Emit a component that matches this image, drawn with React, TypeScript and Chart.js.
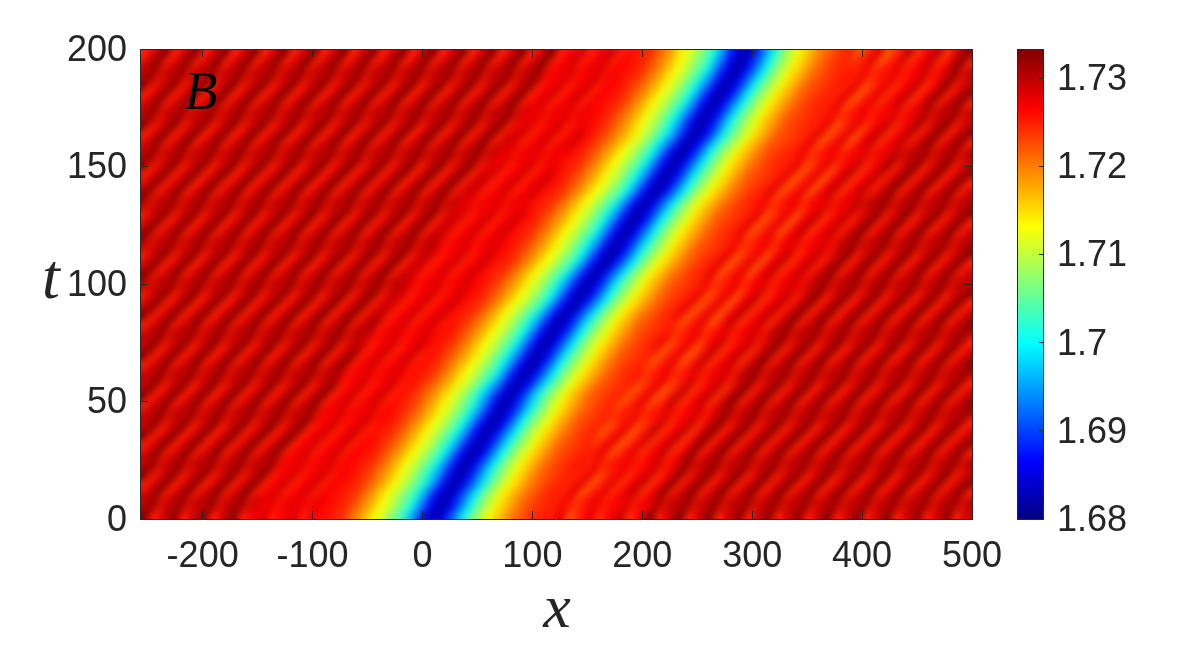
import React, { useEffect, useRef } from "react";
import { Chart, registerables } from "chart.js";

Chart.register(...registerables);

const row00 = [45,49,53,45,49,53,45,49,53,45,49,53,45,49,53,45,49,53,45,49,53,45,49,53,45,49,53,45,49,53,45,49,53,45,49,53,45,49,53,45,49,53,45,47,49,45,47,49,45,46,45,44,41,38,34,31,27,23,16,8,3,4,11,18,25,30,34,37,40,42,44,45,42,45,48,42,45,50,44,47,50,44,49,53];
const row01 = [49,53,45,49,53,45,49,53,45,49,53,45,49,53,45,49,53,45,49,53,45,49,53,45,49,53,45,49,53,45,49,53,45,49,53,45,49,53,45,49,53,45,47,49,45,47,49,45,47,46,45,43,40,37,33,30,26,21,13,6,2,6,13,21,27,31,35,38,41,43,44,45,45,48,42,45,48,44,47,50,44,47,53,45];
const row02 = [50,51,50,51,50,51,50,51,50,51,50,51,50,51,50,51,50,51,50,51,50,51,50,51,50,51,50,51,50,51,50,51,50,51,50,51,50,51,50,51,50,47,47,48,47,47,48,47,46,45,44,41,38,34,31,27,23,16,8,3,4,11,18,25,30,34,37,40,42,44,45,46,45,46,47,46,47,46,47,48,47,50,51,50];
const row03 = [53,45,49,53,45,49,53,45,49,53,45,49,53,45,49,53,45,49,53,45,49,53,45,49,53,45,49,53,45,49,53,45,49,53,45,49,53,45,49,53,45,47,49,45,47,49,45,47,46,44,42,39,36,32,29,24,18,11,4,3,8,16,23,28,32,36,39,42,43,44,45,45,48,42,45,48,44,47,50,44,47,53,45,49];
const row04 = [45,49,53,45,49,53,45,49,53,45,49,53,45,49,53,45,49,53,45,49,53,45,49,53,45,49,53,45,49,53,45,49,53,45,49,53,45,49,53,45,47,49,45,47,49,45,47,46,45,43,40,37,33,30,26,21,13,6,2,6,13,21,27,31,35,38,41,43,44,45,45,48,42,45,48,44,47,50,44,47,53,45,49,53];
const row05 = [49,53,45,49,53,45,49,53,45,49,53,45,49,53,45,49,53,45,49,53,45,49,53,45,49,53,45,49,53,45,49,53,45,49,53,45,49,53,45,47,49,45,47,49,45,47,46,45,44,41,38,34,31,27,23,16,8,3,4,11,18,25,30,34,37,40,42,44,45,45,48,42,45,48,44,47,50,44,47,53,45,49,53,45];
const row06 = [50,51,50,51,50,51,50,51,50,51,50,51,50,51,50,51,50,51,50,51,50,51,50,51,50,51,50,51,50,51,50,51,50,51,50,51,50,51,50,47,47,48,47,47,48,47,46,44,42,39,36,32,29,24,18,11,4,3,8,16,23,28,32,36,39,42,43,44,45,46,45,46,47,46,47,46,47,48,47,50,51,50,51,50];
const row07 = [53,45,49,53,45,49,53,45,49,53,45,49,53,45,49,53,45,49,53,45,49,53,45,49,53,45,49,53,45,49,53,45,49,53,45,49,53,45,47,49,45,47,49,45,47,46,45,43,40,37,33,30,26,21,13,6,2,6,13,21,27,31,35,38,41,43,44,45,45,48,42,45,48,44,47,50,44,47,53,45,49,53,45,49];
const row08 = [45,49,53,45,49,53,45,49,53,45,49,53,45,49,53,45,49,53,45,49,53,45,49,53,45,49,53,45,49,53,45,49,53,45,49,53,45,49,49,45,47,49,45,47,49,46,44,42,39,36,32,29,24,18,11,4,3,8,16,23,28,32,36,39,42,43,44,45,48,42,45,48,42,47,50,44,47,50,45,49,53,45,49,53];
const row09 = [49,53,45,49,53,45,49,53,45,49,53,45,49,53,45,49,53,45,49,53,45,49,53,45,49,53,45,49,53,45,49,53,45,49,53,45,49,49,45,47,49,45,47,49,46,44,42,39,36,32,29,24,18,11,4,3,8,16,23,28,32,36,39,42,43,44,45,48,42,45,48,42,47,50,44,47,50,45,49,53,45,49,53,45];
const row10 = [50,51,50,51,50,51,50,51,50,51,50,51,50,51,50,51,50,51,50,51,50,51,50,51,50,51,50,51,50,51,50,51,50,51,50,51,47,47,48,47,47,48,47,46,45,43,40,37,33,30,26,21,13,6,2,6,13,21,27,31,35,38,41,43,44,45,46,45,46,47,46,47,46,47,48,47,50,51,50,51,50,51,50,51];
const row11 = [53,45,49,53,45,49,53,45,49,53,45,49,53,45,49,53,45,49,53,45,49,53,45,49,53,45,49,53,45,49,53,45,49,53,45,47,49,45,47,49,45,47,46,45,44,41,38,34,31,27,23,16,8,3,4,11,18,25,30,34,37,40,42,44,45,45,48,42,45,48,44,47,50,44,47,53,45,49,53,45,49,53,45,49];
const row12 = [45,49,53,45,49,53,45,49,53,45,49,53,45,49,53,45,49,53,45,49,53,45,49,53,45,49,53,45,49,53,45,49,53,45,49,49,45,47,49,45,47,49,46,44,42,39,36,32,29,24,18,11,4,3,8,16,23,28,32,36,39,42,43,44,45,48,42,45,48,42,47,50,44,47,50,45,49,53,45,49,53,45,49,53];
const row13 = [49,53,45,49,53,45,49,53,45,49,53,45,49,53,45,49,53,45,49,53,45,49,53,45,49,53,45,49,53,45,49,53,45,49,49,45,47,49,45,47,49,46,45,43,40,37,33,30,26,21,13,6,2,6,13,21,27,31,35,38,41,43,44,45,48,42,45,48,42,47,50,44,47,50,45,49,53,45,49,53,45,49,53,45];
const row14 = [53,45,49,53,45,49,53,45,49,53,45,49,53,45,49,53,45,49,53,45,49,53,45,49,53,45,49,53,45,49,53,45,49,49,45,47,49,45,47,49,46,45,44,41,38,34,31,27,23,16,8,3,4,11,18,25,30,34,37,40,42,44,45,48,42,45,48,42,47,50,44,47,50,45,49,53,45,49,53,45,49,53,45,49];
const row15 = [50,51,50,51,50,51,50,51,50,51,50,51,50,51,50,51,50,51,50,51,50,51,50,51,50,51,50,51,50,51,50,51,47,47,48,47,47,48,47,46,45,44,41,38,34,31,27,23,16,8,3,4,11,18,25,30,34,37,40,42,44,45,46,45,46,47,46,47,46,47,48,47,50,51,50,51,50,51,50,51,50,51,50,51];
const row16 = [45,49,53,45,49,53,45,49,53,45,49,53,45,49,53,45,49,53,45,49,53,45,49,53,45,49,53,45,49,53,45,49,49,45,47,49,45,47,49,46,44,42,39,36,32,29,24,18,11,4,3,8,16,23,28,32,36,39,42,43,44,45,48,42,45,48,42,47,50,44,47,50,45,49,53,45,49,53,45,49,53,45,49,53];
const row17 = [49,53,45,49,53,45,49,53,45,49,53,45,49,53,45,49,53,45,49,53,45,49,53,45,49,53,45,49,53,45,49,49,45,47,49,45,47,49,46,45,43,40,37,33,30,26,21,13,6,2,6,13,21,27,31,35,38,41,43,44,45,48,42,45,48,42,47,50,44,47,50,45,49,53,45,49,53,45,49,53,45,49,53,45];
const row18 = [53,45,49,53,45,49,53,45,49,53,45,49,53,45,49,53,45,49,53,45,49,53,45,49,53,45,49,53,45,49,49,45,47,49,45,47,49,46,45,44,41,38,34,31,27,23,16,8,3,4,11,18,25,30,34,37,40,42,44,45,48,42,45,48,42,47,50,44,47,50,45,49,53,45,49,53,45,49,53,45,49,53,45,49];
const row19 = [50,51,50,51,50,51,50,51,50,51,50,51,50,51,50,51,50,51,50,51,50,51,50,51,50,51,50,51,50,51,47,47,48,47,47,48,47,46,44,42,39,36,32,29,24,18,11,4,3,8,16,23,28,32,36,39,42,43,44,45,46,45,46,47,46,47,46,47,48,47,50,51,50,51,50,51,50,51,50,51,50,51,50,51];
const row20 = [45,49,53,45,49,53,45,49,53,45,49,53,45,49,53,45,49,53,45,49,53,45,49,53,45,49,53,45,49,49,45,47,49,45,47,49,46,45,43,40,37,33,30,26,21,13,6,2,6,13,21,27,31,35,38,41,43,44,45,48,42,45,48,42,47,50,44,47,50,45,49,53,45,49,53,45,49,53,45,49,53,45,49,53];
const row21 = [49,53,45,49,53,45,49,53,45,49,53,45,49,53,45,49,53,45,49,53,45,49,53,45,49,53,45,49,49,45,47,49,45,47,49,46,45,44,41,38,34,31,27,23,16,8,3,4,11,18,25,30,34,37,40,42,44,45,48,42,45,48,42,47,50,44,47,50,45,49,53,45,49,53,45,49,53,45,49,53,45,49,53,45];
const row22 = [53,45,49,53,45,49,53,45,49,53,45,49,53,45,49,53,45,49,53,45,49,53,45,49,53,45,49,49,45,47,49,45,47,49,46,45,44,41,38,34,31,27,23,16,8,3,4,11,18,25,30,34,37,40,42,44,45,48,42,45,48,42,47,50,44,47,50,45,49,53,45,49,53,45,49,53,45,49,53,45,49,53,45,49];
const row23 = [50,51,50,51,50,51,50,51,50,51,50,51,50,51,50,51,50,51,50,51,50,51,50,51,50,51,50,47,47,48,47,47,48,47,46,44,42,39,36,32,29,24,18,11,4,3,8,16,23,28,32,36,39,42,43,44,45,46,45,46,47,46,47,46,47,48,47,50,51,50,51,50,51,50,51,50,51,50,51,50,51,50,51,50];
const row24 = [45,49,53,45,49,53,45,49,53,45,49,53,45,49,53,45,49,53,45,49,53,45,49,53,45,49,49,45,47,49,45,47,49,46,45,43,40,37,33,30,26,21,13,6,2,6,13,21,27,31,35,38,41,43,44,45,48,42,45,48,42,47,50,44,47,50,45,49,53,45,49,53,45,49,53,45,49,53,45,49,53,45,49,53];
const row25 = [49,53,45,49,53,45,49,53,45,49,53,45,49,53,45,49,53,45,49,53,45,49,53,45,49,49,45,47,49,45,47,49,46,45,44,41,38,34,31,27,23,16,8,3,4,11,18,25,30,34,37,40,42,44,45,48,42,45,48,42,47,50,44,47,50,45,49,53,45,49,53,45,49,53,45,49,53,45,49,53,45,49,53,45];
const row26 = [53,45,49,53,45,49,53,45,49,53,45,49,53,45,49,53,45,49,53,45,49,53,45,49,49,45,47,49,45,47,49,46,45,44,41,38,34,31,27,23,16,8,3,4,11,18,25,30,34,37,40,42,44,45,48,42,45,48,42,47,50,44,47,50,45,49,53,45,49,53,45,49,53,45,49,53,45,49,53,45,49,53,45,49];
const row27 = [45,49,53,45,49,53,45,49,53,45,49,53,45,49,53,45,49,53,45,49,53,45,49,53,45,47,49,45,47,49,45,46,44,42,39,36,32,29,24,18,11,4,3,8,16,23,28,32,36,39,42,43,44,45,42,45,48,42,45,50,44,47,50,44,49,53,45,49,53,45,49,53,45,49,53,45,49,53,45,49,53,45,49,53];
const row28 = [50,51,50,51,50,51,50,51,50,51,50,51,50,51,50,51,50,51,50,51,50,51,50,47,47,48,47,47,48,47,46,45,43,40,37,33,30,26,21,13,6,2,6,13,21,27,31,35,38,41,43,44,45,46,45,46,47,46,47,46,47,48,47,50,51,50,51,50,51,50,51,50,51,50,51,50,51,50,51,50,51,50,51,50];
const row29 = [49,53,45,49,53,45,49,53,45,49,53,45,49,53,45,49,53,45,49,53,45,49,49,45,47,49,45,47,49,46,45,44,41,38,34,31,27,23,16,8,3,4,11,18,25,30,34,37,40,42,44,45,48,42,45,48,42,47,50,44,47,50,45,49,53,45,49,53,45,49,53,45,49,53,45,49,53,45,49,53,45,49,53,45];
const row30 = [53,45,49,53,45,49,53,45,49,53,45,49,53,45,49,53,45,49,53,45,49,53,45,47,49,45,47,49,45,46,44,42,39,36,32,29,24,18,11,4,3,8,16,23,28,32,36,39,42,43,44,45,42,45,48,42,45,50,44,47,50,44,49,53,45,49,53,45,49,53,45,49,53,45,49,53,45,49,53,45,49,53,45,49];
const row31 = [45,49,53,45,49,53,45,49,53,45,49,53,45,49,53,45,49,53,45,49,53,45,47,49,45,47,49,45,46,45,43,40,37,33,30,26,21,13,6,2,6,13,21,27,31,35,38,41,43,44,45,42,45,48,42,45,50,44,47,50,44,49,53,45,49,53,45,49,53,45,49,53,45,49,53,45,49,53,45,49,53,45,49,53];
const row32 = [50,51,50,51,50,51,50,51,50,51,50,51,50,51,50,51,50,51,50,51,47,47,48,47,47,48,47,46,45,44,41,38,34,31,27,23,16,8,3,4,11,18,25,30,34,37,40,42,44,45,46,45,46,47,46,47,46,47,48,47,50,51,50,51,50,51,50,51,50,51,50,51,50,51,50,51,50,51,50,51,50,51,50,51];
const row33 = [49,53,45,49,53,45,49,53,45,49,53,45,49,53,45,49,53,45,49,53,45,47,49,45,47,49,45,46,44,42,39,36,32,29,24,18,11,4,3,8,16,23,28,32,36,39,42,43,44,45,42,45,48,42,45,50,44,47,50,44,49,53,45,49,53,45,49,53,45,49,53,45,49,53,45,49,53,45,49,53,45,49,53,45];
const row34 = [53,45,49,53,45,49,53,45,49,53,45,49,53,45,49,53,45,49,53,45,47,49,45,47,49,45,46,44,42,39,36,32,29,24,18,11,4,3,8,16,23,28,32,36,39,42,43,44,45,42,45,48,42,45,50,44,47,50,44,49,53,45,49,53,45,49,53,45,49,53,45,49,53,45,49,53,45,49,53,45,49,53,45,49];
const row35 = [45,49,53,45,49,53,45,49,53,45,49,53,45,49,53,45,49,53,45,47,49,45,47,49,45,46,45,44,41,38,34,31,27,23,16,8,3,4,11,18,25,30,34,37,40,42,44,45,42,45,48,42,45,50,44,47,50,44,49,53,45,49,53,45,49,53,45,49,53,45,49,53,45,49,53,45,49,53,45,49,53,45,49,53];
const row36 = [50,51,50,51,50,51,50,51,50,51,50,51,50,51,50,51,50,51,47,47,48,47,47,48,47,46,44,42,39,36,32,29,24,18,11,4,3,8,16,23,28,32,36,39,42,43,44,45,46,45,46,47,46,47,46,47,48,47,50,51,50,51,50,51,50,51,50,51,50,51,50,51,50,51,50,51,50,51,50,51,50,51,50,51];
const row37 = [49,53,45,49,53,45,49,53,45,49,53,45,49,53,45,49,53,45,47,49,45,47,49,45,46,45,43,40,37,33,30,26,21,13,6,2,6,13,21,27,31,35,38,41,43,44,45,42,45,48,42,45,50,44,47,50,44,49,53,45,49,53,45,49,53,45,49,53,45,49,53,45,49,53,45,49,53,45,49,53,45,49,53,45];
const row38 = [53,45,49,53,45,49,53,45,49,53,45,49,53,45,49,53,45,47,49,45,47,49,45,46,45,44,41,38,34,31,27,23,16,8,3,4,11,18,25,30,34,37,40,42,44,45,42,45,48,42,45,50,44,47,50,44,49,53,45,49,53,45,49,53,45,49,53,45,49,53,45,49,53,45,49,53,45,49,53,45,49,53,45,49];
const row39 = [45,49,53,45,49,53,45,49,53,45,49,53,45,49,53,45,47,49,45,47,49,45,47,46,44,42,39,36,32,29,24,18,11,4,3,8,16,23,28,32,36,39,42,43,44,45,45,48,42,45,48,44,47,50,44,47,53,45,49,53,45,49,53,45,49,53,45,49,53,45,49,53,45,49,53,45,49,53,45,49,53,45,49,53];
const row40 = [49,53,45,49,53,45,49,53,45,49,53,45,49,53,45,47,49,45,47,49,45,47,46,45,43,40,37,33,30,26,21,13,6,2,6,13,21,27,31,35,38,41,43,44,45,45,48,42,45,48,44,47,50,44,47,53,45,49,53,45,49,53,45,49,53,45,49,53,45,49,53,45,49,53,45,49,53,45,49,53,45,49,53,45];
const row41 = [50,51,50,51,50,51,50,51,50,51,50,51,50,51,47,47,48,47,47,48,47,46,45,44,41,38,34,31,27,23,16,8,3,4,11,18,25,30,34,37,40,42,44,45,46,45,46,47,46,47,46,47,48,47,50,51,50,51,50,51,50,51,50,51,50,51,50,51,50,51,50,51,50,51,50,51,50,51,50,51,50,51,50,51];
const row42 = [53,45,49,53,45,49,53,45,49,53,45,49,53,45,47,49,45,47,49,45,47,46,44,42,39,36,32,29,24,18,11,4,3,8,16,23,28,32,36,39,42,43,44,45,45,48,42,45,48,44,47,50,44,47,53,45,49,53,45,49,53,45,49,53,45,49,53,45,49,53,45,49,53,45,49,53,45,49,53,45,49,53,45,49];
const row43 = [45,49,53,45,49,53,45,49,53,45,49,53,45,47,49,45,47,49,45,47,46,45,44,41,38,34,31,27,23,16,8,3,4,11,18,25,30,34,37,40,42,44,45,45,48,42,45,48,44,47,50,44,47,53,45,49,53,45,49,53,45,49,53,45,49,53,45,49,53,45,49,53,45,49,53,45,49,53,45,49,53,45,49,53];
const row44 = [49,53,45,49,53,45,49,53,45,49,53,45,47,49,45,47,49,45,47,46,45,44,41,38,34,31,27,23,16,8,3,4,11,18,25,30,34,37,40,42,44,45,45,48,42,45,48,44,47,50,44,47,53,45,49,53,45,49,53,45,49,53,45,49,53,45,49,53,45,49,53,45,49,53,45,49,53,45,49,53,45,49,53,45];
const row45 = [50,51,50,51,50,51,50,51,50,51,50,51,47,47,48,47,47,48,47,46,45,43,40,37,33,30,26,21,13,6,2,6,13,21,27,31,35,38,41,43,44,45,46,45,46,47,46,47,46,47,48,47,50,51,50,51,50,51,50,51,50,51,50,51,50,51,50,51,50,51,50,51,50,51,50,51,50,51,50,51,50,51,50,51];
const row46 = [53,45,49,53,45,49,53,45,49,53,45,47,49,45,47,49,45,47,46,45,44,41,38,34,31,27,23,16,8,3,4,11,18,25,30,34,37,40,42,44,45,45,48,42,45,48,44,47,50,44,47,53,45,49,53,45,49,53,45,49,53,45,49,53,45,49,53,45,49,53,45,49,53,45,49,53,45,49,53,45,49,53,45,49];

const heatRows = [row00,row01,row02,row03,row04,row05,row06,row07,row08,row09,row10,row11,row12,row13,row14,row15,row16,row17,row18,row19,row20,row21,row22,row23,row24,row25,row26,row27,row28,row29,row30,row31,row32,row33,row34,row35,row36,row37,row38,row39,row40,row41,row42,row43,row44,row45,row46];

const xTicks = [-200, -100, 0, 100, 200, 300, 400, 500];
const tTicks = [0, 50, 100, 150, 200];
const cTicks = [1.68, 1.69, 1.7, 1.71, 1.72, 1.73];
const X_MIN = -257, X_MAX = 500, T_MIN = 0, T_MAX = 200, C_MIN = 1.68, C_MAX = 1.7333;

const INK = "#262626";
const FONT = "'Liberation Sans', Arial, sans-serif";

function jet(v: number) {
  const p = Math.min(1, Math.max(0, (v - C_MIN) / (C_MAX - C_MIN)));
  const c = (a: number) => Math.round(255 * Math.min(1, Math.max(0, 1.5 - Math.abs(4 * p - a))));
  return `rgb(${c(3)},${c(2)},${c(1)})`;
}

const levelToValue = (lvl: number) => C_MIN + lvl / 1000;

const cols = 84, rows = heatRows.length;
const dx = (X_MAX - X_MIN) / cols, dt = (T_MAX - T_MIN) / rows;
const heatData: any[] = [];
const heatColors: string[] = [];
heatRows.forEach((row, r) => {
  row.forEach((lvl, i) => {
    heatData.push({ x: X_MIN + (i + 0.5) * dx, y: [T_MAX - (r + 1) * dt, T_MAX - r * dt] });
    heatColors.push(jet(levelToValue(lvl)));
  });
});

const ramp = Array.from({ length: 235 }, (_, i) => i);
const rampStep = (C_MAX - C_MIN) / ramp.length;
const rampData = ramp.map((i) => ({ x: 0.5, y: [C_MIN + i * rampStep, C_MIN + (i + 1) * rampStep] }));
const rampColors = ramp.map((i) => jet(C_MIN + (i + 0.5) * rampStep));

const sized = (prop: "width" | "height", size: number) => (s: any) => { s[prop] = size; };
const fixedTicks = (vals: number[]) => (s: any) => { s.ticks = vals.map((value) => ({ value })); };

const mathLabels = {
  id: "mathLabels",
  afterDraw(chart: any) {
    const { ctx } = chart;
    ctx.save();
    ctx.textAlign = "center";
    ctx.textBaseline = "alphabetic";
    ctx.fillStyle = INK;
    ctx.font = "italic 62px 'Liberation Serif', serif";
    ctx.fillText("x", 557, 627);
    ctx.font = "italic 64px 'Liberation Serif', serif";
    ctx.fillText("t", 51, 298);
    ctx.fillStyle = "#000";
    ctx.font = "italic 54px 'Liberation Serif', serif";
    ctx.fillText("B", 201, 109);
    ctx.restore();
  },
};

const tickFont = { family: FONT, size: 36 };

function axis(position: string, min: number, max: number, vals: number[], thick: number, labels: boolean, tick: number, pad: number, shift = 0) {
  const horizontal = position === "top" || position === "bottom";
  return {
    type: "linear",
    position,
    min,
    max,
    offset: false,
    afterBuildTicks: fixedTicks(vals),
    afterFit: sized(horizontal ? "height" : "width", thick),
    grid: { offset: false, drawOnChartArea: false, drawTicks: true, tickLength: -tick, tickColor: INK, lineWidth: 1, z: 1 },
    border: { display: true, color: INK, width: 1, z: 1 },
    ticks: {
      display: labels,
      autoSkip: false,
      maxRotation: 0,
      minRotation: 0,
      color: INK,
      font: tickFont,
      padding: pad,
      labelOffset: shift,
      z: 1,
      callback: (v: number) => String(v),
    },
  };
}

const base = {
  animation: false,
  responsive: false,
  devicePixelRatio: 1,
  events: [],
  layout: { padding: 0 },
  plugins: { legend: { display: false }, tooltip: { enabled: false } },
};

const STREAK = "37.2deg";

export default function App() {
  const cellRef = useRef<HTMLCanvasElement>(null);
  const copyRef = useRef<HTMLCanvasElement>(null);
  const axisRef = useRef<HTMLCanvasElement>(null);
  const barRef = useRef<HTMLCanvasElement>(null);

  useEffect(() => {
    // One canvas pixel per cell; the browser smooths it when the canvas is scaled up to the plot.
    const cells = new Chart(cellRef.current as any, {
      type: "bar",
      data: {
        datasets: [{
          data: heatData,
          backgroundColor: heatColors,
          borderWidth: 0,
          inflateAmount: 0,
          barPercentage: 1,
          categoryPercentage: 1,
        }],
      },
      options: {
        ...base,
        scales: {
          x: { type: "linear", display: false, min: X_MIN, max: X_MAX, offset: false },
          y: { type: "linear", display: false, min: T_MIN, max: T_MAX },
        },
      } as any,
    } as any);
    copyRef.current!.getContext("2d")!.drawImage(cellRef.current!, 0, 0);

    const axes = new Chart(axisRef.current as any, {
      type: "scatter",
      data: { datasets: [{ data: [] }] },
      options: {
        ...base,
        scales: {
          x: axis("bottom", X_MIN, X_MAX, xTicks, 131, true, 8, 24),
          x2: axis("top", X_MIN, X_MAX, xTicks, 49, false, 8, 0),
          y: axis("left", T_MIN, T_MAX, tTicks, 140, true, 8, 21, 2),
          y2: axis("right", T_MIN, T_MAX, tTicks, 208, false, 8, 0),
        },
      } as any,
      plugins: [mathLabels],
    } as any);

    const bar = new Chart(barRef.current as any, {
      type: "bar",
      data: {
        datasets: [{
          data: rampData,
          backgroundColor: rampColors,
          borderWidth: 0,
          inflateAmount: 1,
          barPercentage: 1,
          categoryPercentage: 1,
        }],
      },
      options: {
        ...base,
        scales: {
          x: axis("bottom", 0, 1, [], 131, false, 0, 0),
          x2: axis("top", 0, 1, [], 49, false, 0, 0),
          y: axis("right", C_MIN, C_MAX, cTicks, 137, true, 4, 18, 2),
          y2: axis("left", C_MIN, C_MAX, [], 1017, false, 0, 0),
        },
      } as any,
    } as any);

    return () => { cells.destroy(); axes.destroy(); bar.destroy(); };
  }, []);

  const full: React.CSSProperties = { position: "absolute", left: 0, top: 0, width: 1180, height: 650 };
  const plot: React.CSSProperties = { position: "absolute", left: 0, top: 0, width: 832, height: 470 };
  return (
    <div style={{ position: "fixed", left: 0, top: 0, width: 1180, height: 650, background: "#fff" }}>
      <svg width={0} height={0} style={{ position: "absolute" }}>
        <filter id="along" x="-20%" y="-20%" width="140%" height="140%" colorInterpolationFilters="sRGB">
          <feGaussianBlur stdDeviation="0 6" />
        </filter>
      </svg>
      <div style={{ position: "absolute", left: 140, top: 49, width: 832, height: 470, overflow: "hidden" }}>
        <canvas ref={copyRef} width={84} height={47} style={plot} />
        <div style={{ ...plot, transform: `skewX(-${STREAK})`, filter: "url(#along)" }}>
          <canvas ref={cellRef} width={84} height={47} style={{ ...plot, transform: `skewX(${STREAK})` }} />
        </div>
      </div>
      <canvas ref={axisRef} width={1180} height={650} style={full} />
      <canvas ref={barRef} width={1180} height={650} style={full} />
    </div>
  );
}
